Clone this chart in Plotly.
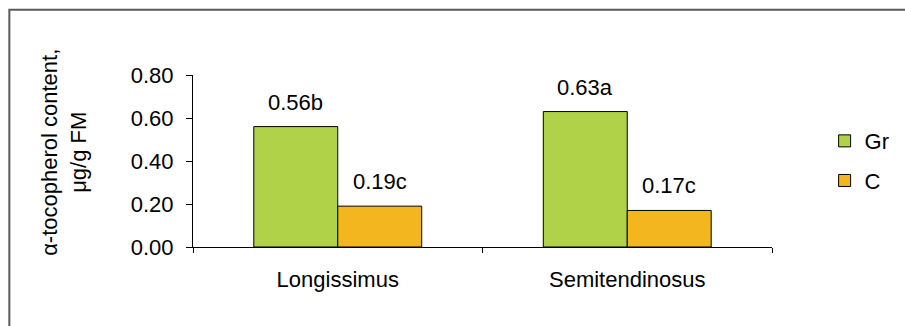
import plotly.graph_objects as go

muscles = ['Longissimus', 'Semitendinosus']
gr_values = [0.56, 0.63]
c_values = [0.19, 0.17]
gr_labels = ['0.56b', '0.63a']
c_labels = ['0.19c', '0.17c']
y_ticks = [0.0, 0.2, 0.4, 0.6, 0.8]

FONT = 'Liberation Sans, Arial, sans-serif'
FS = 22

fig = go.Figure()
fig.add_trace(go.Bar(x=muscles, y=gr_values, name='Gr', legendgroup='gr',
                     marker=dict(color='#b0d249', line=dict(color='black', width=1))))
fig.add_trace(go.Bar(x=muscles, y=c_values, name='C', legendgroup='c',
                     marker=dict(color='#f3b61f', line=dict(color='black', width=1))))

annotations = []
for m, v, t in zip(muscles, gr_values, gr_labels):
    annotations.append(dict(x=m, y=v, text=t, xshift=-42, yshift=10, showarrow=False,
                            yanchor='bottom', font=dict(size=FS, color='black')))
for m, v, t in zip(muscles, c_values, c_labels):
    annotations.append(dict(x=m, y=v, text=t, xshift=42, yshift=10, showarrow=False,
                            yanchor='bottom', font=dict(size=FS, color='black')))

# two-line y title
annotations.append(dict(xref='paper', yref='paper', x=-0.222, y=0.55,
                        text='\u03b1-tocopherol content,<br>\u03bcg/g FM', textangle=-90,
                        showarrow=False, xanchor='center', yanchor='middle',
                        font=dict(size=FS, color='black')))

fig.update_layout(
    width=905, height=326,
    margin=dict(l=193, r=132, t=75, b=79),
    paper_bgcolor='white', plot_bgcolor='white',
    font=dict(family=FONT, size=FS, color='black'),
    barmode='group', bargap=0.42, bargroupgap=0,
    annotations=annotations,
    legend=dict(x=1.089, y=0.738, xanchor='left', yanchor='top',
                traceorder='grouped', tracegroupgap=8,
                font=dict(size=FS), bgcolor='rgba(0,0,0,0)'),
    shapes=[dict(type='rect', xref='paper', yref='paper',
                 x0=-0.3172, x1=1.235, y0=-0.475, y1=1.38,
                 line=dict(color='#5a5a5a', width=2))],
)
fig.update_xaxes(showline=True, linecolor='black', linewidth=1,
                 ticks='outside', tickson='boundaries', ticklen=5, tickcolor='black',
                 ticklabelstandoff=13,
                 range=[-0.5, 1.5], showgrid=False)
fig.update_yaxes(showline=True, linecolor='black', linewidth=1,
                 ticks='outside', ticklen=6, tickcolor='black',
                 ticklabelstandoff=8,
                 range=[0, 0.8], tickvals=y_ticks, tickformat='.2f',
                 showgrid=False, zeroline=False)

fig.write_html('out.html', config={'displayModeBar': False},
               post_script="document.body.style.margin='0';")
